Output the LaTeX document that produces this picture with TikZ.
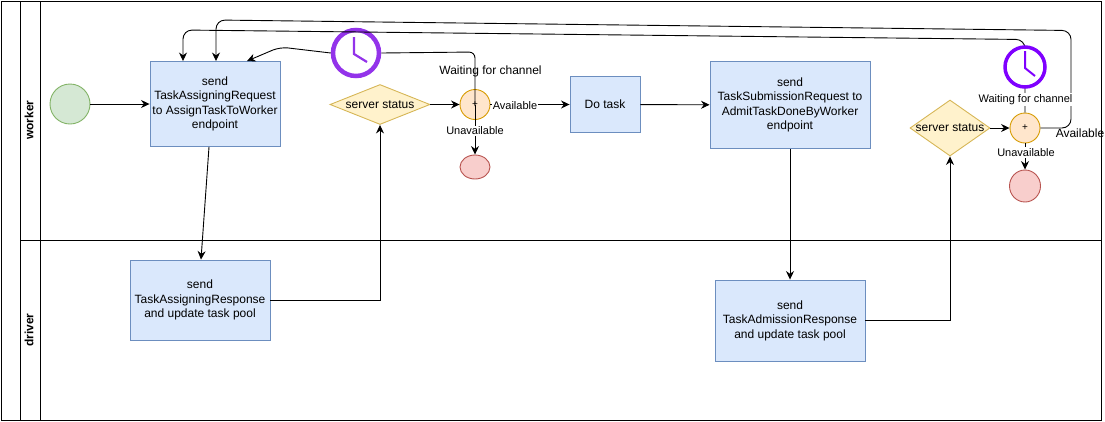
\documentclass[tikz,border=0pt]{standalone}
\usepackage{fontspec}
\setmainfont{Liberation Sans}
\usepackage{xcolor}
\usetikzlibrary{arrows.meta}
\usetikzlibrary{shapes.geometric}
\definecolor{bluefill}{HTML}{DAE8FC}
\definecolor{blueline}{HTML}{6C8EBF}
\definecolor{greenfill}{HTML}{D5E8D4}
\definecolor{greenline}{HTML}{82B366}
\definecolor{redfill}{HTML}{F8CECC}
\definecolor{redline}{HTML}{B85450}
\definecolor{yellowfill}{HTML}{FFF2CC}
\definecolor{yellowline}{HTML}{D6B656}
\definecolor{orangefill}{HTML}{FFE6CC}
\definecolor{orangeline}{HTML}{D79B00}
\definecolor{clockline}{HTML}{7F00FF}
\definecolor{clocklinea}{HTML}{9333EA}
\tikzset{
  flow/.style={line width=0.9pt,rounded corners=6pt,-{Stealth[length=8.5pt,width=8pt]}},
  flowplain/.style={line width=0.9pt,rounded corners=6pt},
  taskbox/.style={draw=blueline,fill=bluefill,align=center,inner sep=0pt,font=\fontsize{12}{14.4}\selectfont},
  serverstatus/.style={diamond,aspect=1,draw=yellowline,fill=yellowfill,inner sep=0pt,font=\fontsize{12}{14}\selectfont},
  gateway/.style={circle,draw=orangeline,fill=orangefill,minimum size=30pt,inner sep=0pt,font=\fontsize{10}{10}\selectfont},
  endevent/.style={ellipse,draw=redline,fill=redfill,inner sep=0pt},
  clock/.style={circle,draw=clockline,line width=3.5pt,fill=white,inner sep=0pt},
  lbl/.style={inner sep=1pt,font=\fontsize{11}{13}\selectfont},
}
\begin{document}
\begin{tikzpicture}[x=1pt,y=-1pt,line width=0.9pt]
\useasboundingbox (0,0) rectangle (1105,421);
% swimlanes
\draw (1,1) rectangle (1101,420);
\draw (20,1)--(20,420);
\draw (40,1)--(40,420);
\draw (20,240)--(1101,240);
\node[rotate=90,font=\bfseries\fontsize{12}{14}\selectfont] (worker) at (29,120) {worker};
\node[rotate=90,font=\bfseries\fontsize{12}{14}\selectfont] (driver) at (29,330) {driver};
% worker, first part
\node[circle,draw=greenline,fill=greenfill,minimum size=40pt,inner sep=0pt] (start) at (70,104) {};
\node[taskbox,minimum width=130pt,minimum height=85pt] (assignreq) at (215,104) {send\\TaskAssigningRequest\\to AssignTaskToWorker\\endpoint};
\node[serverstatus,minimum width=100pt,minimum height=40pt,diamond,aspect=2.5] (statusa) at (380,104.5) {server status};
\node[gateway] (gwa) at (475,104.5) {+};
\node[endevent,minimum width=30pt,minimum height=24pt] (enda) at (475,167) {};
\node[taskbox,minimum width=70pt,minimum height=56pt] (dotask) at (605,104.5) {Do task};
\node[taskbox,minimum width=160pt,minimum height=87pt] (submitreq) at (790,105) {send\\TaskSubmissionRequest to\\AdmitTaskDoneByWorker\\endpoint};
\node[clock,minimum size=46pt,line width=4.5pt,draw=clocklinea] (clocka) at (356,53) {};
% worker, second part
\node[serverstatus,minimum width=80pt,minimum height=56pt,aspect=1.43] (statusb) at (950,128) {server status};
\node[gateway] (gwb) at (1025,128) {+};
\node[endevent,minimum width=31pt,minimum height=32pt] (endb) at (1025,186) {};
% driver
\node[taskbox,minimum width=140pt,minimum height=80pt] (assignresp) at (200,300) {send\\TaskAssigningResponse\\and update task pool};
\node[taskbox,minimum width=150pt,minimum height=81pt] (admitresp) at (790,320.5) {send\\TaskAdmissionResponse\\and update task pool};
% connectors
\draw[flow] (start)--(assignreq);
\draw[flow] ([xshift=-6pt]assignreq.south)--([xshift=1pt]assignresp.north);
\draw[flow,rounded corners=0pt] (assignresp.east)-|(statusa.south);
\draw[flow] (statusa)--(gwa);
\draw[flow] (gwa.center)--(enda);
\draw[flow] (gwa)--(dotask);
\draw[flow] (dotask)--(submitreq);
\draw[flow] (submitreq.south)--(admitresp.north);
\draw[flow,rounded corners=0pt] (admitresp.east)-|(statusb.south);
\draw[flow] (statusb)--(gwb);
\draw[flow] (gwb)--(endb);
% loop back through the first clock
\coordinate (backa) at (280,47);
\draw[flowplain] (gwa.center)--(475,52)--(clocka.east);
\draw[flow,rounded corners=8pt] (clocka.west)--(backa)--([xshift=32pt]assignreq.north);
% loops back from the second gateway
\draw[flow,rounded corners=9pt] (gwb.north)--(1025,39.5)--(183,30)--([xshift=-32pt]assignreq.north);
\draw[flow,rounded corners=9pt] (gwb.east)--(1071,128)--(1071,30.5)--(216,20)--([xshift=1pt]assignreq.north);
\node[clock,minimum size=40pt] (clockb) at (1025,67) {};
% clock hands
\draw[clocklinea,line width=2.2pt] (354,37)--(354,54)--(367,62);
\draw[clockline,line width=2pt] (1025,51)--(1025,68)--(1035,76);
% labels
\node[font=\fontsize{12}{14}\selectfont,inner sep=0pt] (waita) at (490.5,71) {Waiting for channel};
\node[lbl,fill=white] (unava) at (475,131) {Unavailable};
\node[lbl,fill=white] (ava) at (515,105.5) {Available};
\node[lbl,fill=white] (waitb) at (1025.5,99.5) {Waiting for channel};
\node[lbl,fill=white] (unavb) at (1026,152.5) {Unavailable};
\node[font=\fontsize{12}{14}\selectfont,inner sep=0pt] (avb) at (1080,133) {Available};
\end{tikzpicture}
\end{document}
